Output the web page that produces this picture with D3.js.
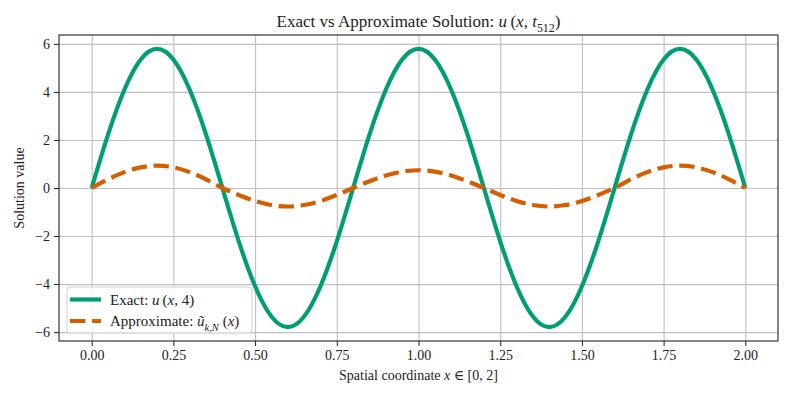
<!DOCTYPE html>
<html>
<head>
<meta charset="utf-8">
<script src="https://cdn.jsdelivr.net/npm/d3@7"></script>
<style>
  body { margin: 0; background: #fff; }
  svg { display: block; }
  .gridline line { stroke: #bfbfbf; stroke-width: 1.1; }
  .gridline path { display: none; }
  .axis text { font-family: "Liberation Serif", "DejaVu Serif", serif; font-size: 14px; fill: #222; }
  .axis line { stroke: #222; stroke-width: 1; }
  .axis path { display: none; }
</style>
</head>
<body>
<div id="chart"></div>
<script>
// x positions sampled every 0.05 along [0, 2]
var xs = [0.00,0.05,0.10,0.15,0.20,0.25,0.30,0.35,0.40,0.45,0.50,0.55,0.60,0.65,0.70,0.75,0.80,
          0.85,0.90,0.95,1.00,1.05,1.10,1.15,1.20,1.25,1.30,1.35,1.40,1.45,1.50,1.55,1.60,
          1.65,1.70,1.75,1.80,1.85,1.90,1.95,2.00];

// exact solution u(x,4)
var exactVals = [0.00,2.22,4.09,5.35,5.79,5.35,4.09,2.22,0.00,-2.22,-4.09,-5.35,-5.79,-5.35,-4.09,-2.22,0.00,
                 2.22,4.09,5.35,5.79,5.35,4.09,2.22,0.00,-2.22,-4.09,-5.35,-5.79,-5.35,-4.09,-2.22,0.00,
                 2.22,4.09,5.35,5.79,5.35,4.09,2.22,0.00];

// approximate solution
var approxVals = [0.00,0.36,0.66,0.86,0.93,0.86,0.66,0.36,0.00,-0.29,-0.54,-0.71,-0.77,-0.71,-0.54,-0.29,0.00,
                  0.28,0.52,0.68,0.74,0.68,0.52,0.28,0.00,-0.29,-0.54,-0.71,-0.77,-0.71,-0.54,-0.29,0.00,
                  0.36,0.66,0.86,0.93,0.86,0.66,0.36,0.00];

var xTicks = [0, 0.25, 0.5, 0.75, 1.0, 1.25, 1.5, 1.75, 2.0];
var yTicks = [-6, -4, -2, 0, 2, 4, 6];

var exactColor = "#009E73",
    approxColor = "#D55E00";

var W = 793, H = 397;
var margin = {top: 35, right: 15, bottom: 56, left: 59},
    width = W - margin.left - margin.right,
    height = H - margin.top - margin.bottom;

var serif = '"Liberation Serif", "DejaVu Serif", serif';

var svg = d3.select("#chart").append("svg")
    .attr("width", W)
    .attr("height", H);

var g = svg.append("g")
    .attr("transform", "translate(" + margin.left + "," + margin.top + ")");

var xScale = d3.scaleLinear().domain([-0.1, 2.1]).range([0, width]);
var yScale = d3.scaleLinear().domain([-6.37, 6.37]).range([height, 0]);

// gridlines
g.append("g")
    .attr("class", "gridline")
    .attr("transform", "translate(0," + height + ")")
    .call(d3.axisBottom(xScale).tickValues(xTicks).tickSize(-height).tickFormat(""));
g.append("g")
    .attr("class", "gridline")
    .call(d3.axisLeft(yScale).tickValues(yTicks).tickSize(-width).tickFormat(""));

// lines
var exactData = xs.map(function(x, i) { return {x: x, y: exactVals[i]}; });
var approxData = xs.map(function(x, i) { return {x: x, y: approxVals[i]}; });

var line = d3.line()
    .x(function(d) { return xScale(d.x); })
    .y(function(d) { return yScale(d.y); })
    .curve(d3.curveNatural);

g.append("path")
    .datum(exactData)
    .attr("fill", "none")
    .attr("stroke", exactColor)
    .attr("stroke-width", 4.2)
    .attr("d", line);

g.append("path")
    .datum(approxData)
    .attr("fill", "none")
    .attr("stroke", approxColor)
    .attr("stroke-width", 4.2)
    .attr("stroke-dasharray", "15.4,6.7")
    .attr("d", line);

// axes
g.append("g")
    .attr("class", "x axis")
    .attr("transform", "translate(0," + height + ")")
    .call(d3.axisBottom(xScale).tickValues(xTicks).tickSize(5).tickPadding(4)
        .tickFormat(d3.format(".2f")));

g.append("g")
    .attr("class", "y axis")
    .call(d3.axisLeft(yScale).tickValues(yTicks).tickSize(5).tickPadding(4)
        .tickFormat(function(d) { return d < 0 ? "\u2212" + Math.abs(d) : d; }));

// frame
g.append("rect")
    .attr("width", width)
    .attr("height", height)
    .attr("fill", "none")
    .attr("stroke", "#222")
    .attr("stroke-width", 1.1);

// text with italic / subscript pieces; size is the base font size in px
function richText(sel, parts, size) {
  var shift = 0;
  parts.forEach(function(p) {
    var t = sel.append("tspan").text(p.t);
    if (p.it) t.attr("font-style", "italic");
    if (p.sub) {
      var s = Math.round(size * 0.3 * 10) / 10;
      t.attr("font-size", (size * 0.7) + "px").attr("dy", s);
      shift = s;
    } else if (shift) {
      t.attr("dy", -shift);
      shift = 0;
    }
  });
  return sel;
}

// title
richText(svg.append("text")
    .attr("x", margin.left + width / 2)
    .attr("y", 27)
    .attr("text-anchor", "middle")
    .attr("font-family", serif)
    .attr("font-size", "17px")
    .attr("fill", "#222"),
  [{t: "Exact vs Approximate Solution:  "}, {t: "u", it: true}, {t: "\u2009(" }, {t: "x", it: true},
   {t: ", "}, {t: "t", it: true}, {t: "512", sub: true}, {t: ")"}], 17);

// x label
richText(svg.append("text")
    .attr("x", margin.left + width / 2)
    .attr("y", 380)
    .attr("text-anchor", "middle")
    .attr("font-family", serif)
    .attr("font-size", "14px")
    .attr("fill", "#222"),
  [{t: "Spatial coordinate "}, {t: "x", it: true}, {t: " \u2208 [0, 2]"}], 14);

// y label
svg.append("text")
    .attr("transform", "translate(24," + (margin.top + height / 2) + ") rotate(-90)")
    .attr("text-anchor", "middle")
    .attr("font-family", serif)
    .attr("font-size", "14px")
    .attr("fill", "#222")
    .text("Solution value");

// legend
var lg = g.append("g").attr("transform", "translate(8," + (height - 54) + ")");
lg.append("rect")
    .attr("width", 185)
    .attr("height", 46)
    .attr("rx", 3)
    .attr("fill", "#fff")
    .attr("fill-opacity", 0.8)
    .attr("stroke", "#d0d0d0");

var legendItems = [
  {color: exactColor, dash: null,
   parts: [{t: "Exact:  "}, {t: "u", it: true}, {t: "\u2009(" }, {t: "x", it: true}, {t: ", 4)"}]},
  {color: approxColor, dash: "15.4,6.7",
   parts: [{t: "Approximate:  "}, {t: "\u0169", it: true}, {t: "k,N", it: true, sub: true},
           {t: " ("}, {t: "x", it: true}, {t: ")"}]}
];

legendItems.forEach(function(d, i) {
  var yy = 12.5 + i * 21.5;
  lg.append("line")
      .attr("x1", 3).attr("x2", 34)
      .attr("y1", yy).attr("y2", yy)
      .attr("stroke", d.color)
      .attr("stroke-width", 4.2)
      .attr("stroke-dasharray", d.dash);
  richText(lg.append("text")
      .attr("x", 43)
      .attr("y", yy + 5)
      .attr("font-family", serif)
      .attr("font-size", "15px")
      .attr("fill", "#222"), d.parts, 15);
});
</script>
</body>
</html>
